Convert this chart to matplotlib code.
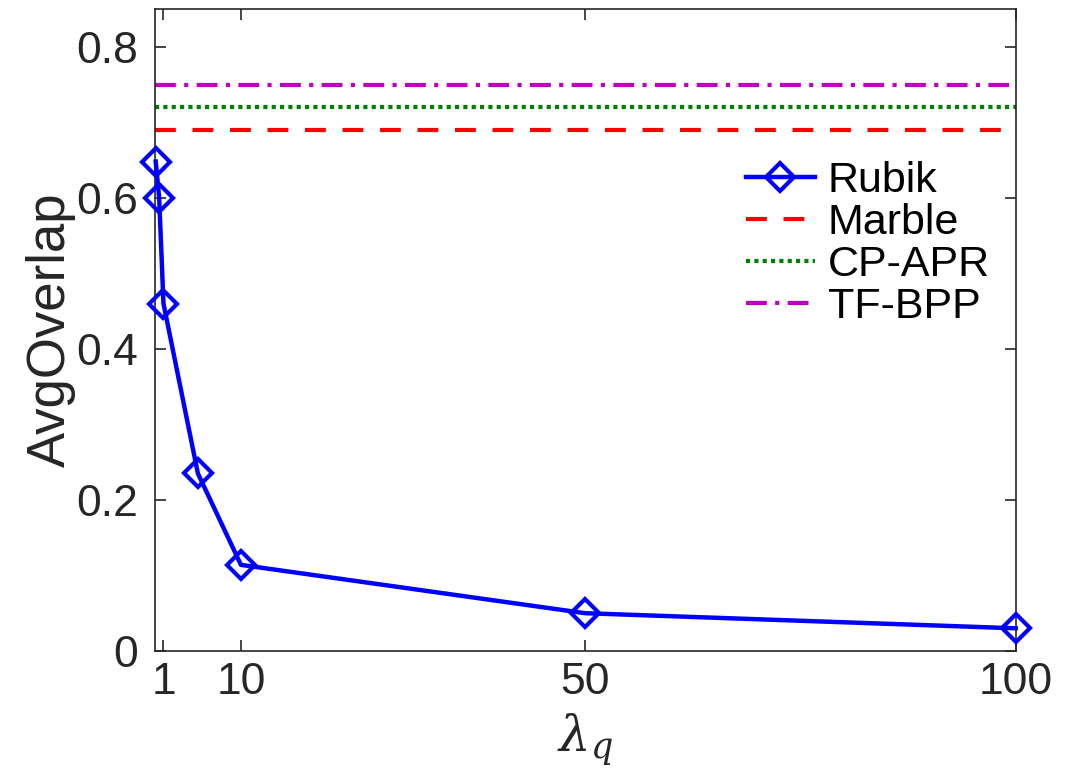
import matplotlib
matplotlib.use("Agg")
from matplotlib import pyplot as plt

# valores
lambdas = [0.1, 0.5, 1, 5, 10, 50, 100]
rubik = [0.648, 0.600, 0.460, 0.235, 0.114, 0.050, 0.030]
marble = 0.69
cp_apr = 0.72
tf_bpp = 0.75
x_ticks = [1, 10, 50, 100]
y_ticks = [0, 0.2, 0.4, 0.6, 0.8]
y_tick_labels = ["0", "0.2", "0.4", "0.6", "0.8"]

plt.rcParams["font.family"] = ["Liberation Sans", "DejaVu Sans"]
plt.rcParams["mathtext.fontset"] = "dejavuserif"

fig = plt.figure(figsize=(10.68, 7.81), dpi=100)
ax = fig.add_axes([0.145, 0.1665, 0.806, 0.822])

# curva de Rubik y las lineas de referencia de los otros metodos
ax.plot(lambdas, rubik, color=(0, 0, 1), linewidth=3.2, marker="D",
        markersize=14, markerfacecolor="none", markeredgewidth=3,
        label="Rubik", clip_on=False, zorder=5)
ax.axhline(marble, color=(1, 0, 0), linestyle=(0, (5, 4)), linewidth=3, label="Marble")
ax.axhline(cp_apr, color=(0, 0.5, 0), linestyle=(0, (1, 1)), linewidth=3, label="CP-APR")
ax.axhline(tf_bpp, color=(0.75, 0, 0.75), linestyle=(0, (5, 2, 1, 2)), linewidth=3, label="TF-BPP")

ax.set_xlim(0, 100)
ax.set_ylim(0, 0.85)
ax.set_xticks(x_ticks)
ax.set_xticklabels([str(t) for t in x_ticks])
ax.set_yticks(y_ticks)
ax.set_yticklabels(y_tick_labels)

ax.tick_params(direction="in", top=True, right=True, length=8, width=1.2,
               labelsize=32, colors="#262626")
ax.tick_params(axis="y", pad=12)
ax.tick_params(axis="x", pad=8)
for s in ax.spines.values():
    s.set_color("#262626")
    s.set_linewidth(1.2)

ax.set_xlabel(r"$\lambda_q$", fontsize=36, color="#262626", labelpad=6)
ax.set_ylabel("AvgOverlap", fontsize=38, color="#262626", labelpad=0)

ax.legend(loc="upper right", bbox_to_anchor=(0.99, 0.79), frameon=False,
          fontsize=31, handlelength=1.6, handletextpad=0.3, labelspacing=0.05,
          borderaxespad=0)

fig.savefig("out.png", dpi=100)
